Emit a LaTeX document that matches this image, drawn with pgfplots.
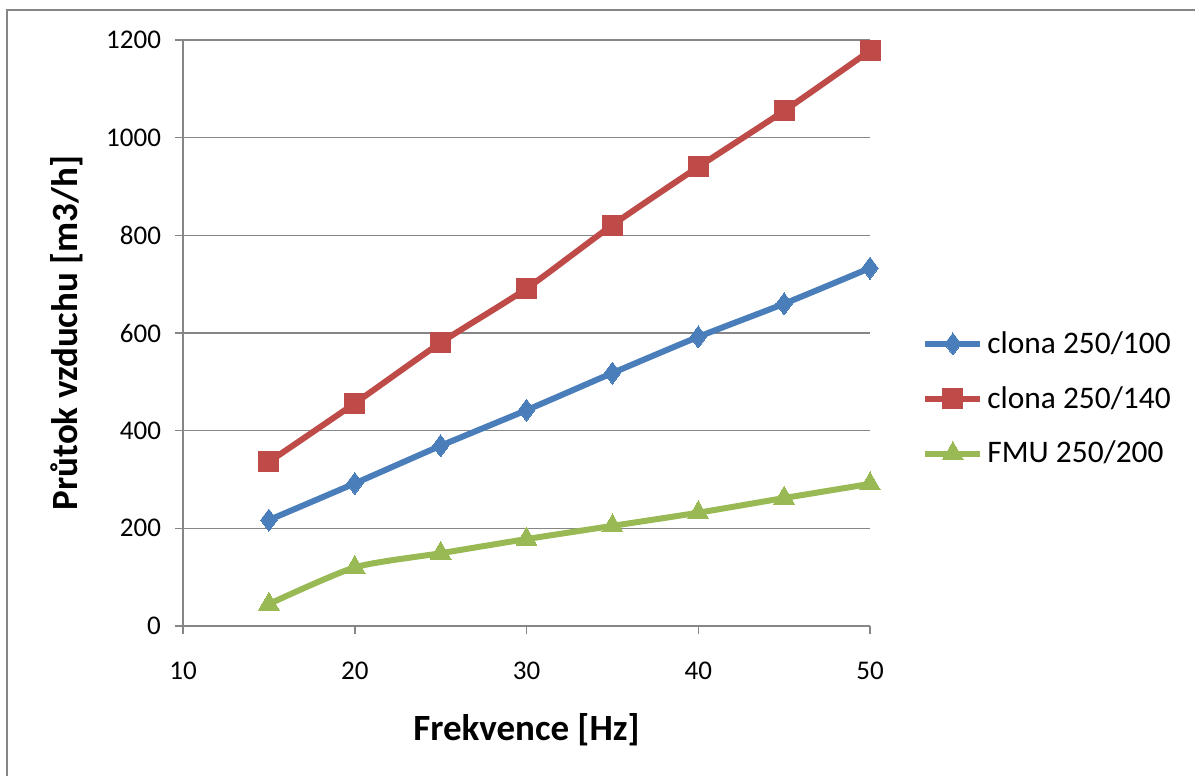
\documentclass[border=0pt]{standalone}
\usepackage{pgfplots}
\pgfplotsset{compat=1.18}
\usepackage{fontspec}
\setmainfont{Carlito}
\definecolor{cblue}{HTML}{4A7EBB}
\definecolor{cred}{HTML}{BE4B48}
\definecolor{cgreen}{HTML}{98B954}
\definecolor{cgray}{HTML}{868686}
\begin{document}
\begin{tikzpicture}[x=0.5pt,y=0.5pt]
\useasboundingbox (0,0) rectangle (1195,776);
\draw[cgray,line width=1pt] (7,0) -- (7,766) -- (1195,766);
\begin{axis}[
  at={(91.5pt,75pt)}, anchor=south west,
  scale only axis, width=343.5pt, height=293pt,
  xmin=10, xmax=50, ymin=0, ymax=1200,
  xtick={10,20,30,40,50}, ytick={0,200,400,600,800,1000,1200},
  axis lines=left, axis line style={-, cgray, line width=0.75pt},
  ymajorgrids, grid style={cgray, line width=0.75pt},
  tick align=outside, major tick length=4pt,
  tick style={cgray, line width=0.75pt},
  /pgf/number format/assume math mode=true,
  /pgf/number format/1000 sep={},
  tick label style={font=\fontsize{13.5}{16}\selectfont},
  x tick label style={yshift=-10.5pt},
  y tick label style={xshift=-3.5pt},
  xlabel={Frekvence [Hz]}, ylabel={Průtok vzduchu [m3/h]},
  label style={font=\fontsize{18.5}{22}\selectfont\bfseries},
  xlabel style={at={(axis description cs:0.5,-0.1775)},anchor=center},
  ylabel style={at={(axis description cs:-0.1695,0.5)},anchor=center},
  legend style={draw=none, fill=none, at={(axis description cs:1.0757,0.510)}, anchor=north west,
    font=\fontsize{15.7}{19}\selectfont, inner sep=0pt, row sep=11pt,
    /tikz/every odd column/.append style={column sep=0pt}},
  legend cell align=left,
  legend image code/.code={\draw[mark repeat=2,mark phase=2,#1] plot coordinates {(0pt,0pt)(13.75pt,0pt)(27.5pt,0pt)};},
  clip=false,
]
\addplot[cblue, line width=3pt, smooth, tension=0.4, mark=diamond*, mark size=5.5pt, mark options={solid, fill=cblue, line width=0pt}]
coordinates {(15,217)(20,292)(25,369)(30,442)(35,518)(40,592)(45,660)(50,733)};
\addlegendentry{clona 250/100}
\addplot[cred, line width=3pt, smooth, tension=0.4, mark=square*, mark size=5pt, mark options={solid, fill=cred, line width=0pt}]
coordinates {(15,336)(20,456)(25,580)(30,691)(35,821)(40,940)(45,1055)(50,1178)};
\addlegendentry{clona 250/140}
\addplot[cgreen, line width=3pt, smooth, tension=0.4, mark=triangle*, mark size=6pt, mark options={solid, fill=cgreen, line width=0pt}]
coordinates {(15,45)(20,120)(25,149)(30,178)(35,205)(40,232)(45,262)(50,291)};
\addlegendentry{FMU 250/200}
\end{axis}
\end{tikzpicture}
\end{document}
